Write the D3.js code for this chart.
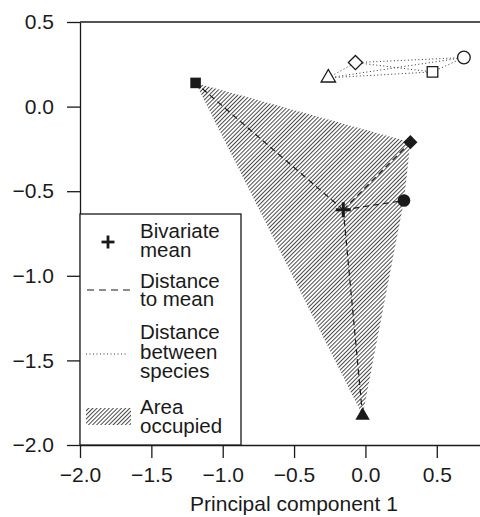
<!DOCTYPE html>
<html>
<head>
<meta charset="utf-8">
<script src="https://cdn.jsdelivr.net/npm/d3@7"></script>
<style>
  body { margin: 0; background: #fff; }
  svg { display: block; }
  text { font-family: "Liberation Sans", Arial, Helvetica, sans-serif; fill: #1a1a1a; }
</style>
</head>
<body>
<svg id="chart" width="480" height="517"></svg>
<script>
// ---- data ----
const xTicks = [-2.0, -1.5, -1.0, -0.5, 0.0, 0.5];
const yTicks = [-2.0, -1.5, -1.0, -0.5, 0.0, 0.5];
const xTitle = "Principal component 1";

const filledShapes = ["square", "diamond", "circle", "triangle"];
const filledX = [-1.19, 0.315, 0.27, -0.02];
const filledY = [0.14, -0.21, -0.555, -1.826];

const openShapes = ["triangle", "diamond", "square", "circle"];
const openX = [-0.26, -0.07, 0.47, 0.69];
const openY = [0.17, 0.26, 0.205, 0.29];

const meanX = -0.155;
const meanY = -0.61;

const legendLabels = [["Bivariate", "mean"], ["Distance", "to mean"], ["Distance", "between", "species"], ["Area", "occupied"]];

// ---- setup ----
const svg = d3.select("#chart");
const ink = "#1a1a1a";
const FS = 21;
const LFS = 20.5;
const x = d3.scaleLinear().domain([-2, 0.8]).range([80, 479.6]);
const y = d3.scaleLinear().domain([-2, 0.5]).range([445, 22]);
const fmt = d3.format(".1f");

const defs = svg.append("defs");
const pat = defs.append("pattern")
  .attr("id", "hatch").attr("patternUnits", "userSpaceOnUse")
  .attr("width", 2.9).attr("height", 2.9)
  .attr("patternTransform", "rotate(45)");
pat.append("line").attr("x1", 0.5).attr("y1", 0).attr("x2", 0.5).attr("y2", 2.9)
  .attr("stroke", "#2a2a2a").attr("stroke-width", 0.85);

// ---- axes ----
const yAxis = d3.axisLeft(y).tickValues(yTicks).tickFormat(fmt).tickSize(13).tickPadding(13).tickSizeOuter(0);
const gy = svg.append("g").attr("transform", `translate(${x(-2)},0)`).call(yAxis);
const xAxis = d3.axisBottom(x).tickValues(xTicks).tickFormat(fmt).tickSize(13).tickPadding(9).tickSizeOuter(0);
const gx = svg.append("g").attr("transform", `translate(0,${y(-2)})`).call(xAxis);
[gx, gy].forEach(g => {
  g.select(".domain").attr("stroke", ink).attr("stroke-width", 1.3);
  g.selectAll(".tick line").attr("stroke", ink).attr("stroke-width", 1.3);
  g.selectAll(".tick text").attr("font-size", FS).attr("fill", ink)
    .style("font-family", '"Liberation Sans", Arial, sans-serif');
});
// top frame line
svg.append("line").attr("x1", x(-2)).attr("x2", 480).attr("y1", y(0.5)).attr("y2", y(0.5))
  .attr("stroke", ink).attr("stroke-width", 1.3);

svg.append("text").attr("x", 294).attr("y", 511).attr("text-anchor", "middle")
  .attr("font-size", FS).text(xTitle);

// ---- area occupied (convex hull of filled species) ----
const filledPts = filledX.map((v, i) => [x(v), y(filledY[i])]);
const hull = d3.polygonHull(filledPts);
svg.append("path").attr("d", "M" + hull.join("L") + "Z").attr("fill", "url(#hatch)").attr("stroke", "none");

// ---- distance to mean ----
filledPts.forEach(p => {
  svg.append("line").attr("x1", x(meanX)).attr("y1", y(meanY)).attr("x2", p[0]).attr("y2", p[1])
    .attr("stroke", ink).attr("stroke-width", 1.2).attr("stroke-dasharray", "6,4");
});

// ---- distances between open species ----
const openPts = openX.map((v, i) => [x(v), y(openY[i])]);
for (let i = 0; i < openPts.length; i++) {
  for (let j = i + 1; j < openPts.length; j++) {
    svg.append("line").attr("x1", openPts[i][0]).attr("y1", openPts[i][1])
      .attr("x2", openPts[j][0]).attr("y2", openPts[j][1])
      .attr("stroke", "#333").attr("stroke-width", 1).attr("stroke-dasharray", "1,2.5");
  }
}

// ---- markers ----
const sym = {
  square: d3.symbol(d3.symbolSquare, 112),
  diamond: d3.symbol(d3.symbolSquare, 100),
  circle: d3.symbol(d3.symbolCircle, 125),
  triangle: d3.symbol(d3.symbolTriangle, 90)
};
function place(p, shape) {
  return `translate(${p[0]},${p[1]})` + (shape === "diamond" ? " rotate(45)" : "");
}
filledPts.forEach((p, i) => {
  svg.append("path").attr("d", sym[filledShapes[i]]()).attr("transform", place(p, filledShapes[i]))
    .attr("fill", ink);
});
openPts.forEach((p, i) => {
  svg.append("path").attr("d", sym[openShapes[i]]()).attr("transform", place(p, openShapes[i]))
    .attr("fill", "#fff").attr("stroke", ink).attr("stroke-width", 1.3);
});

// mean plus
function plus(g, cx, cy, r, w) {
  g.append("line").attr("x1", cx - r).attr("x2", cx + r).attr("y1", cy).attr("y2", cy).attr("stroke", ink).attr("stroke-width", w);
  g.append("line").attr("x1", cx).attr("x2", cx).attr("y1", cy - r).attr("y2", cy + r).attr("stroke", ink).attr("stroke-width", w);
}
plus(svg, x(meanX), y(meanY), 7.5, 3);

// ---- legend ----
const lg = svg.append("g");
lg.append("rect").attr("x", x(-2)).attr("y", 214).attr("width", 161).attr("height", y(-2) - 214)
  .attr("fill", "#fff").attr("stroke", ink).attr("stroke-width", 1.3);
plus(lg, 108, 242, 6.5, 2.8);
lg.append("line").attr("x1", 87).attr("x2", 131).attr("y1", 290).attr("y2", 290)
  .attr("stroke", ink).attr("stroke-width", 1.2).attr("stroke-dasharray", "7,5");
lg.append("line").attr("x1", 86).attr("x2", 127).attr("y1", 354).attr("y2", 354)
  .attr("stroke", "#333").attr("stroke-width", 1).attr("stroke-dasharray", "1,2.5");
lg.append("rect").attr("x", 86).attr("y", 408).attr("width", 45).attr("height", 17)
  .attr("fill", "url(#hatch)");
const baselines = [[238, 257], [288, 306], [339, 359, 378], [414, 433]];
legendLabels.forEach((lines, i) => {
  lines.forEach((t, j) => {
    lg.append("text").attr("x", 140).attr("y", baselines[i][j]).attr("font-size", LFS).text(t);
  });
});
</script>
</body>
</html>
